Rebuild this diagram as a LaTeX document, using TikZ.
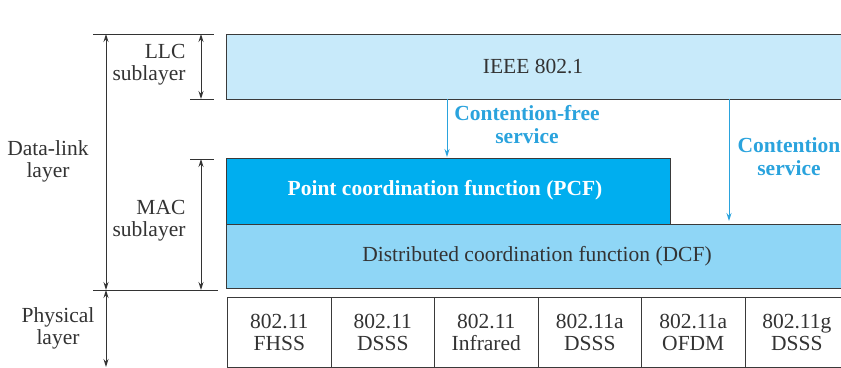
\documentclass[tikz,border=0pt]{standalone}
\usepackage{fontspec}
\setmainfont{Liberation Serif}
\usetikzlibrary{arrows.meta}
\definecolor{llcfill}{HTML}{C8EAFA}
\definecolor{pcffill}{HTML}{00AEEF}
\definecolor{dcffill}{HTML}{8FD6F6}
\definecolor{svcblue}{HTML}{2AA3DD}
\definecolor{edge}{HTML}{3A3A3A}
\tikzset{
  x=1pt,y=-1pt,
  box/.style={draw=edge,line width=1.1pt,inner sep=0pt,anchor=north west},
  lbl/.style={font=\fontsize{21.5}{22}\selectfont,align=center,text=black!80},
  phy/.style={box,fill=white,minimum width=103.5pt,minimum height=70pt,font=\fontsize{21.5}{22}\selectfont,align=center,text=black!80},
  dim/.style={draw=black!80,line width=0.9pt,{Stealth[length=8pt,width=5pt]}-{Stealth[length=8pt,width=5pt]}},
  tick/.style={draw=black!80,line width=0.9pt},
  svc/.style={draw=svcblue,line width=1pt,-{Stealth[length=8pt,width=5pt]}},
  svclbl/.style={font=\bfseries\fontsize{21.5}{23}\selectfont,text=svcblue,align=center}
}
\begin{document}
\begin{tikzpicture}
\useasboundingbox (0,0) rectangle (841,367);
% main boxes
\node[box,fill=llcfill,minimum width=630pt,minimum height=65pt] (llc) at (226,34) {};
\node[lbl] at (533,67) {IEEE 802.1};
\node[box,fill=dcffill,minimum width=630pt,minimum height=64pt] (dcf) at (226,224) {};
\node[lbl] at (537,256) {Distributed coordination function (DCF)};
\node[box,fill=pcffill,minimum width=444pt,minimum height=66pt] (pcf) at (226,158) {};
\node[lbl,text=white,font=\bfseries\fontsize{21.5}{22}\selectfont] at (445,190) {Point coordination function (PCF)};
% physical boxes
\node[phy] (p1) at (227,297) {802.11\\FHSS};
\node[phy] (p2) at (330.5,297) {802.11\\DSSS};
\node[phy] (p3) at (434,297) {802.11\\Infrared};
\node[phy] (p4) at (537.5,297) {802.11a\\DSSS};
\node[phy] (p5) at (641,297) {802.11a\\OFDM};
\node[phy] (p6) at (744.5,297) {802.11g\\DSSS};
% service arrows
\coordinate (cf1) at (447,99);
\coordinate (cf2) at (447,157);
\coordinate (c1) at (729,99);
\coordinate (c2) at (729,221);
\draw[svc] (cf1) -- (cf2);
\draw[svc] (c1) -- (c2);
\node[svclbl] (cfl) at (527,125) {Contention-free\\service};
\node[svclbl] (cl) at (789,157) {Contention\\service};
% ticks
\coordinate (t1a) at (93,34); \coordinate (t1b) at (214,34);
\coordinate (t2a) at (190,99); \coordinate (t2b) at (214,99);
\coordinate (t3a) at (190,159); \coordinate (t3b) at (214,159);
\coordinate (t4a) at (93,290); \coordinate (t4b) at (218,290);
\draw[tick] (t1a) -- (t1b);
\draw[tick] (t2a) -- (t2b);
\draw[tick] (t3a) -- (t3b);
\draw[tick] (t4a) -- (t4b);
% dimension arrows
\coordinate (d1a) at (106,34); \coordinate (d1b) at (106,290);
\coordinate (d2a) at (106,290); \coordinate (d2b) at (106,367);
\coordinate (d3a) at (201,34); \coordinate (d3b) at (201,99);
\coordinate (d4a) at (201,159); \coordinate (d4b) at (201,290);
\draw[dim] (d1a) -- (d1b);
\draw[dim] (d2a) -- (d2b);
\draw[dim] (d3a) -- (d3b);
\draw[dim] (d4a) -- (d4b);
% left labels
\node[lbl,align=right,anchor=east] (llcl) at (189,65) {LLC\\sublayer};
\node[lbl,align=right,anchor=east] (macl) at (189,221) {MAC\\sublayer};
\node[lbl] (dll) at (48,161) {Data-link\\layer};
\node[lbl] (phl) at (58,328) {Physical\\layer};
\end{tikzpicture}
\end{document}
